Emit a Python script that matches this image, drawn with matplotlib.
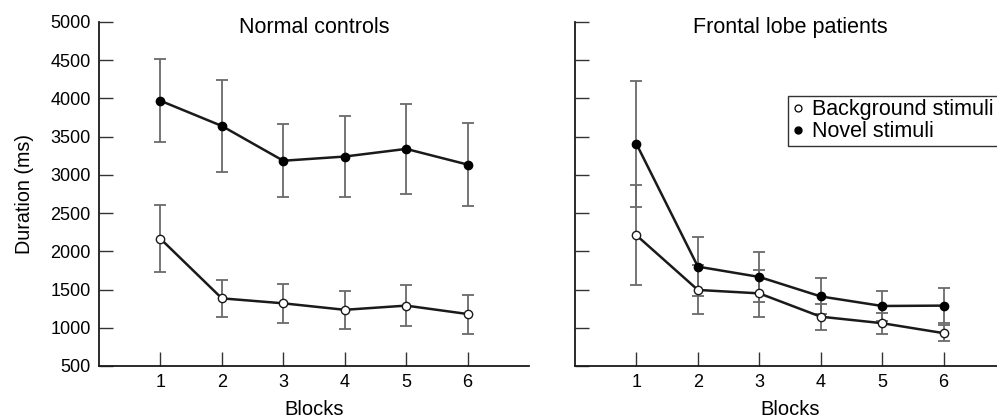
import numpy as np
import matplotlib.pyplot as plt
from matplotlib.lines import Line2D
from matplotlib.patches import Rectangle

plt.rcParams['font.family'] = ['Liberation Sans', 'DejaVu Sans']

blocks = [1, 2, 3, 4, 5, 6]

# Normal controls
ctrl_novel = [3970, 3640, 3185, 3240, 3340, 3135]
ctrl_novel_err = [545, 600, 475, 535, 590, 545]
ctrl_bg = [2165, 1385, 1320, 1235, 1290, 1180]
ctrl_bg_err = [435, 240, 255, 245, 270, 255]

# Frontal lobe patients
pat_novel = [3405, 1800, 1665, 1410, 1285, 1290]
pat_novel_err = [820, 390, 325, 235, 200, 225]
pat_bg = [2210, 1495, 1450, 1145, 1060, 930]
pat_bg_err = [655, 320, 305, 170, 135, 105]

titles = ["Normal controls", "Frontal lobe patients"]

fig = plt.figure(figsize=(9.97, 4.17), dpi=100)
W, H = 997, 417
ax1 = fig.add_axes([99 / W, (H - 366) / H, 430 / W, 344 / H])
ax2 = fig.add_axes([575 / W, (H - 366) / H, 430 / W, 344 / H])

err_kw = dict(ecolor="#6a6a6a", elinewidth=1.3, capsize=4.5, capthick=1.3)
for ax, nov, nov_e, bg, bg_e, title in [
        (ax1, ctrl_novel, ctrl_novel_err, ctrl_bg, ctrl_bg_err, titles[0]),
        (ax2, pat_novel, pat_novel_err, pat_bg, pat_bg_err, titles[1])]:
    ax.errorbar(blocks, bg, yerr=bg_e, fmt="none", zorder=2, **err_kw)
    ax.errorbar(blocks, nov, yerr=nov_e, fmt="none", zorder=2, **err_kw)
    ax.plot(blocks, bg, color="#1a1a1a", lw=1.8, marker="o", ms=6,
            mfc="white", mec="#1a1a1a", mew=1.0, zorder=3)
    ax.plot(blocks, nov, color="#1a1a1a", lw=1.8, marker="o", ms=6,
            mfc="black", mec="black", zorder=3)
    ax.set_xlim(0, 7)
    ax.set_ylim(500, 5000)
    ax.set_xticks(blocks)
    ax.set_yticks(np.arange(500, 5001, 500))
    ax.spines["top"].set_visible(False)
    ax.spines["right"].set_visible(False)
    for s in ["left", "bottom"]:
        ax.spines[s].set_linewidth(1.3)
        ax.spines[s].set_color("#1a1a1a")
    ax.tick_params(direction="in", length=10, width=1.0, color="#333333",
                   labelsize=13, pad=6)
    ax.set_xlabel("Blocks", fontsize=14.5, labelpad=6)
    ax.text(0.5, 0.985, title, transform=ax.transAxes, ha="center", va="center",
            fontsize=15.5)

ax1.set_ylabel("Duration (ms)", fontsize=14.2, labelpad=12)
ax2.tick_params(labelleft=False)

# legend box runs off the right edge, as in the original figure
handles = [Line2D([], [], ls="none", marker="o", ms=5, mfc="white", mec="black", mew=0.9),
           Line2D([], [], ls="none", marker="o", ms=5, mfc="black", mec="black")]
leg = fig.legend(handles, ["Background stimuli", "Novel stimuli"],
                 loc="upper left", bbox_to_anchor=(789 / W, 1 - 96 / H),
                 fontsize=15.5, frameon=False, handlelength=0.5,
                 handletextpad=0.4, borderpad=0.15, labelspacing=0.05,
                 borderaxespad=0)
fig.patches.append(Rectangle((788 / W, 1 - 146 / H), 240 / W, 50 / H,
                             transform=fig.transFigure, fill=False,
                             edgecolor="#333333", lw=1.0))

fig.savefig("out.png", dpi=100)
